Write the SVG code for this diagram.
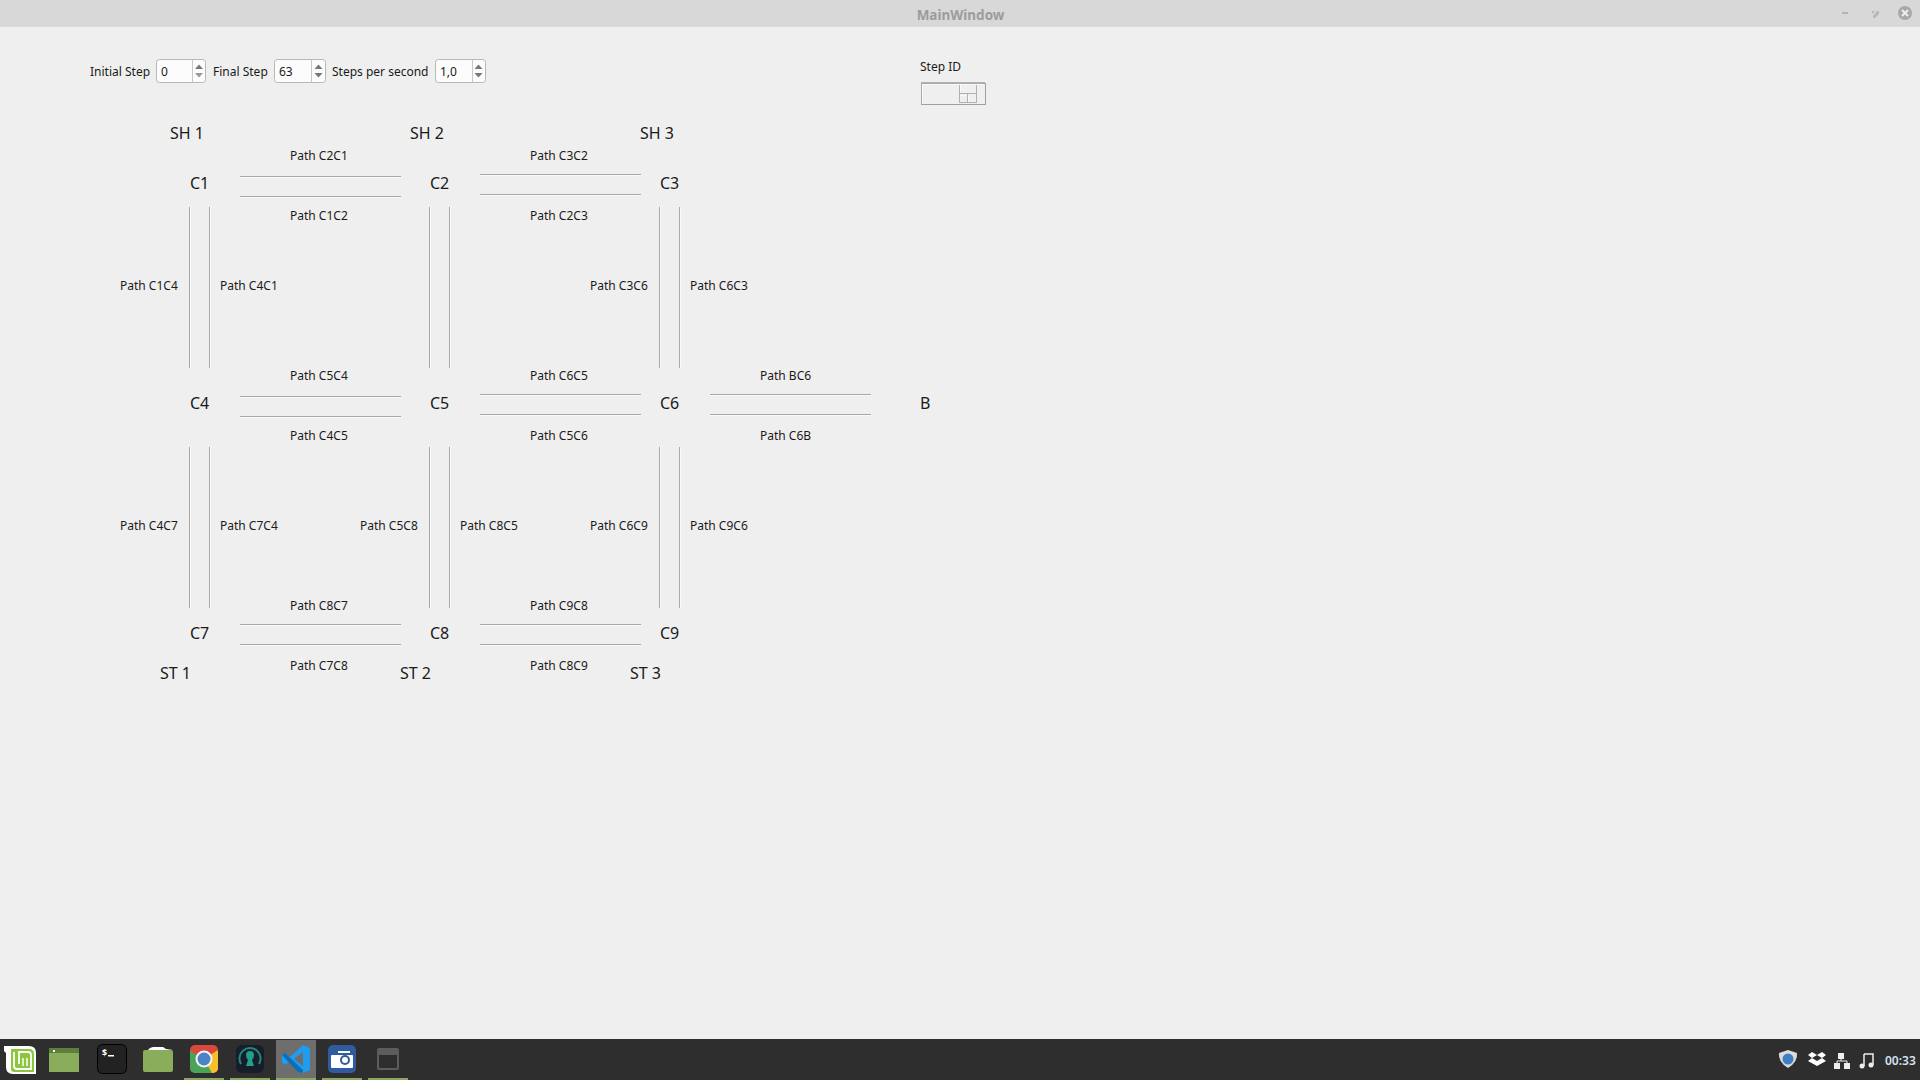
<svg xmlns="http://www.w3.org/2000/svg" width="1920" height="1080" viewBox="0 0 1920 1080">
<defs>
<style>
text{font-family:"Noto Sans","DejaVu Sans",sans-serif;fill:#1a1a1a}
.s{font-size:12px}
.n{font-size:16px}
.c{shape-rendering:crispEdges}
.c .d line{stroke:#a8a8a8;stroke-width:1}
.c .l line{stroke:#fafafa;stroke-width:1}
.spin{fill:#fcfcfc;stroke:#b8b8b8;stroke-width:1}
.dv{stroke:#c8c8c8;stroke-width:1}
.up{fill:#777}
.dn{fill:#999}
.ul{fill:#8aa860}
</style>
<clipPath id="chromeclip"><rect x="190" y="1045" width="28" height="28" rx="5"/></clipPath>
</defs>
<rect width="1920" height="1080" fill="#efefef"/>
<g id="titlebar">
<rect width="1920" height="27" fill="#d8d8d8"/>
<text x="960.500" y="20" text-anchor="middle" font-size="13.500" font-weight="700" style="fill:#9c9c9c">MainWindow</text>
<rect x="1842" y="12" width="6" height="2" fill="#b4b4b4"/>
<path d="M1873 16l4-5h2v3l-4 4h-2zM1872 11h3l-3 3z" fill="#b8b8b8"/>
<circle cx="1905" cy="13" r="7" fill="#a8a8a8"/>
<path d="M1902 10l6 6M1908 10l-6 6" stroke="#efefef" stroke-width="2"/>
</g>
<g id="controls">
<text class="s" x="90" y="76">Initial Step</text>
<rect class="spin" x="156.500" y="59.500" width="49" height="23" rx="3"/><line class="dv" x1="192.500" y1="60" x2="192.500" y2="82"/>
<path class="up" d="M195 69l4-4.500 4 4.500z"/><path class="dn" d="M195 73l4 4.500 4-4.500z"/>
<text class="s" x="161" y="76">0</text>
<text class="s" x="213" y="76">Final Step</text>
<rect class="spin" x="274.500" y="59.500" width="51" height="23" rx="3"/><line class="dv" x1="311.500" y1="60" x2="311.500" y2="82"/>
<path class="up" d="M314.500 69l4-4.500 4 4.500z"/><path class="up" d="M314.500 73l4 4.500 4-4.500z"/>
<text class="s" x="279" y="76">63</text>
<text class="s" x="332" y="76">Steps per second</text>
<rect class="spin" x="435.500" y="59.500" width="50" height="23" rx="3"/><line class="dv" x1="472.500" y1="60" x2="472.500" y2="82"/>
<path class="up" d="M474.500 69l4-4.500 4 4.500z"/><path class="up" d="M474.500 73l4 4.500 4-4.500z"/>
<text class="s" x="440" y="76">1,0</text>
</g>
<g id="stepid">
<text class="s" x="920" y="71">Step ID</text>
<path d="M921 82.500H985" fill="none" stroke="#b4b4b4"/>
<path d="M921.500 104V83M921 83.500H985" fill="none" stroke="#a8a8a8"/>
<path d="M922 84.500H984M922.500 84V103" fill="none" stroke="#fafafa"/>
<path d="M921 104.500H986M985.500 83V105" fill="none" stroke="#a0a0a0"/>
<path d="M959.500 103V85M976.500 103V85M959 93.500H968M968 93.500H977M967.500 94V103M959 102.500H967M968 102.500H977" fill="none" stroke="#b0b0b0"/>
<path d="M960 84.500H976M960.500 85V92M968.500 95V102M960 95.500H967" fill="none" stroke="#fafafa"/>
</g>
<g id="connectors" class="c">
<g class="d">
<line x1="240" y1="176.500" x2="401" y2="176.500"/><line x1="240" y1="196.500" x2="401" y2="196.500"/>
<line x1="480" y1="174.500" x2="641" y2="174.500"/><line x1="480" y1="194.500" x2="641" y2="194.500"/>
<line x1="240" y1="396.500" x2="401" y2="396.500"/><line x1="240" y1="416.500" x2="401" y2="416.500"/>
<line x1="480" y1="394.500" x2="641" y2="394.500"/><line x1="480" y1="414.500" x2="641" y2="414.500"/>
<line x1="710" y1="394.500" x2="871" y2="394.500"/><line x1="710" y1="414.500" x2="871" y2="414.500"/>
<line x1="240" y1="624.500" x2="401" y2="624.500"/><line x1="240" y1="644.500" x2="401" y2="644.500"/>
<line x1="480" y1="624.500" x2="641" y2="624.500"/><line x1="480" y1="644.500" x2="641" y2="644.500"/>
<line x1="189.500" y1="207" x2="189.500" y2="368"/><line x1="209.500" y1="207" x2="209.500" y2="368"/>
<line x1="429.500" y1="207" x2="429.500" y2="368"/><line x1="449.500" y1="207" x2="449.500" y2="368"/>
<line x1="659.500" y1="207" x2="659.500" y2="368"/><line x1="679.500" y1="207" x2="679.500" y2="368"/>
<line x1="189.500" y1="447" x2="189.500" y2="608"/><line x1="209.500" y1="447" x2="209.500" y2="608"/>
<line x1="429.500" y1="447" x2="429.500" y2="608"/><line x1="449.500" y1="447" x2="449.500" y2="608"/>
<line x1="659.500" y1="447" x2="659.500" y2="608"/><line x1="679.500" y1="447" x2="679.500" y2="608"/>
</g>
<g class="l">
<line x1="240" y1="177.500" x2="401" y2="177.500"/><line x1="240" y1="197.500" x2="401" y2="197.500"/>
<line x1="480" y1="175.500" x2="641" y2="175.500"/><line x1="480" y1="195.500" x2="641" y2="195.500"/>
<line x1="240" y1="397.500" x2="401" y2="397.500"/><line x1="240" y1="417.500" x2="401" y2="417.500"/>
<line x1="480" y1="395.500" x2="641" y2="395.500"/><line x1="480" y1="415.500" x2="641" y2="415.500"/>
<line x1="710" y1="395.500" x2="871" y2="395.500"/><line x1="710" y1="415.500" x2="871" y2="415.500"/>
<line x1="240" y1="625.500" x2="401" y2="625.500"/><line x1="240" y1="645.500" x2="401" y2="645.500"/>
<line x1="480" y1="625.500" x2="641" y2="625.500"/><line x1="480" y1="645.500" x2="641" y2="645.500"/>
<line x1="190.500" y1="207" x2="190.500" y2="368"/><line x1="210.500" y1="207" x2="210.500" y2="368"/>
<line x1="430.500" y1="207" x2="430.500" y2="368"/><line x1="450.500" y1="207" x2="450.500" y2="368"/>
<line x1="660.500" y1="207" x2="660.500" y2="368"/><line x1="680.500" y1="207" x2="680.500" y2="368"/>
<line x1="190.500" y1="447" x2="190.500" y2="608"/><line x1="210.500" y1="447" x2="210.500" y2="608"/>
<line x1="430.500" y1="447" x2="430.500" y2="608"/><line x1="450.500" y1="447" x2="450.500" y2="608"/>
<line x1="660.500" y1="447" x2="660.500" y2="608"/><line x1="680.500" y1="447" x2="680.500" y2="608"/>
</g>
</g>
<g id="connector-labels">
<text class="s" x="290" y="160">Path C2C1</text><text class="s" x="290" y="220">Path C1C2</text>
<text class="s" x="530" y="160">Path C3C2</text><text class="s" x="530" y="220">Path C2C3</text>
<text class="s" x="120" y="290">Path C1C4</text><text class="s" x="220" y="290">Path C4C1</text>
<text class="s" x="590" y="290">Path C3C6</text><text class="s" x="690" y="290">Path C6C3</text>
<text class="s" x="290" y="380">Path C5C4</text><text class="s" x="290" y="440">Path C4C5</text>
<text class="s" x="530" y="380">Path C6C5</text><text class="s" x="530" y="440">Path C5C6</text>
<text class="s" x="760" y="380">Path BC6</text><text class="s" x="760" y="440">Path C6B</text>
<text class="s" x="120" y="530">Path C4C7</text><text class="s" x="220" y="530">Path C7C4</text>
<text class="s" x="360" y="530">Path C5C8</text><text class="s" x="460" y="530">Path C8C5</text>
<text class="s" x="590" y="530">Path C6C9</text><text class="s" x="690" y="530">Path C9C6</text>
<text class="s" x="290" y="610">Path C8C7</text><text class="s" x="290" y="670">Path C7C8</text>
<text class="s" x="530" y="610">Path C9C8</text><text class="s" x="530" y="670">Path C8C9</text>
</g>
<g id="node-SH1"><text class="n" x="170" y="139">SH 1</text></g>
<g id="node-SH2"><text class="n" x="410" y="139">SH 2</text></g>
<g id="node-SH3"><text class="n" x="640" y="139">SH 3</text></g>
<g id="node-C1"><text class="n" x="190" y="189">C1</text></g>
<g id="node-C2"><text class="n" x="430" y="189">C2</text></g>
<g id="node-C3"><text class="n" x="660" y="189">C3</text></g>
<g id="node-C4"><text class="n" x="190" y="409">C4</text></g>
<g id="node-C5"><text class="n" x="430" y="409">C5</text></g>
<g id="node-C6"><text class="n" x="660" y="409">C6</text></g>
<g id="node-B"><text class="n" x="920" y="409">B</text></g>
<g id="node-C7"><text class="n" x="190" y="639">C7</text></g>
<g id="node-C8"><text class="n" x="430" y="639">C8</text></g>
<g id="node-C9"><text class="n" x="660" y="639">C9</text></g>
<g id="node-ST1"><text class="n" x="160" y="679">ST 1</text></g>
<g id="node-ST2"><text class="n" x="400" y="679">ST 2</text></g>
<g id="node-ST3"><text class="n" x="630" y="679">ST 3</text></g>
<g id="taskbar">
<rect y="1039" width="1920" height="41" fill="#2e2e2e"/>
<rect x="276" y="1040" width="40" height="40" fill="#6e6e6e"/>
<rect class="ul" x="184" y="1078" width="40" height="2"/><rect class="ul" x="230" y="1078" width="40" height="2"/><rect class="ul" x="276" y="1078" width="40" height="2"/><rect class="ul" x="322" y="1078" width="40" height="2"/><rect class="ul" x="368" y="1078" width="40" height="2"/>
<path d="M4 1046h25q7 0 7 7v21h-23q-7 0-7-7v-14l-2-2z" fill="#fff"/>
<path d="M11 1049h18q5 0 5 5v18h-20q-3 0-3-3z" fill="#8cc63f"/>
<path d="M14 1052v14q0 3 3 3h14v-14q0-3-3-3h-9v12" fill="none" stroke="#fff" stroke-width="1.800"/>
<path d="M23 1066v-8M27 1066v-8" fill="none" stroke="#fff" stroke-width="1.500"/>
<rect x="49" y="1048" width="30" height="24" fill="#8aad5c"/><rect x="49" y="1048" width="30" height="5" fill="#5f7f3d"/><rect x="53" y="1050" width="2" height="2" fill="#fff"/>
<rect x="97.500" y="1044.500" width="29" height="29" rx="5" fill="#222" stroke="#000"/>
<text x="102" y="1056" font-size="9" font-weight="700" style="fill:#fff">$</text><rect x="108" y="1055" width="6" height="1.500" fill="#fff"/>
<path d="M148 1050l2-2 3-1h10l3 2 7 1z" fill="#fff"/><rect x="143" y="1050" width="30" height="22" rx="2" fill="#8aad5c"/>
<g clip-path="url(#chromeclip)">
<rect x="190" y="1045" width="28" height="28" fill="#d9483a"/>
<path d="M204 1059l14-9v23h-14z" fill="#f5c02d"/>
<path d="M190 1051l14 8 8 14h-22z" fill="#4aa356"/>
</g>
<circle cx="204" cy="1059" r="8.500" fill="#f4f4f4"/><circle cx="204" cy="1059" r="6.500" fill="#4b84c4"/>
<rect x="236" y="1045" width="28" height="28" rx="6" fill="#191c2a"/><path d="M241 1064a10.500 10.500 0 1 1 18 0" fill="none" stroke="#1f8a7a" stroke-width="2"/><path d="M246 1055a4 4 0 0 1 8 0q0 3-2 5l2 6h-8l2-6q-2-2-2-5z" fill="#1f9f8c"/>
<path d="M303 1045l7 3v22l-7 3-13-12-5 4-3-2v-8l3-2 5 4z" fill="#1f9cf0"/><path d="M303 1052v14l-9-7z" fill="#6e6e6e"/><path d="M282 1055l3-2 18 17v3l-5-1z" fill="#0a6fb8"/>
<rect x="328" y="1045" width="28" height="28" rx="5" fill="#2f5c9e"/><rect x="331" y="1055" width="22" height="13" rx="1" fill="#fff"/><rect x="338" y="1051" width="12" height="2" fill="#fff"/><circle cx="345" cy="1060" r="5" fill="#2f5c9e"/><circle cx="345" cy="1060" r="3" fill="#fff"/>
<rect x="378" y="1049" width="20" height="20" rx="1" fill="none" stroke="#5c5c5c" stroke-width="2"/><rect x="378" y="1049" width="20" height="6" fill="#5c5c5c"/>
<path d="M1788 1050l9 3q1 9-9 15-10-6-9-15z" fill="#dcdcdc"/><circle cx="1788" cy="1059" r="5.500" fill="#3f7fc1"/>
<path d="M1812 1052l5 3-5 3-4-3zM1822 1052l4 3-4 3-5-3zM1812 1058l5 3 5-3 4 3-9 5-9-5z" fill="#fff"/>
<rect x="1838" y="1053" width="6" height="6" fill="#eee"/><rect x="1834" y="1063" width="6" height="6" fill="#eee"/><rect x="1844" y="1063" width="6" height="6" fill="#eee"/><path d="M1841 1059v2M1837 1063v-2h10v2" fill="none" stroke="#eee"/>
<path d="M1864 1054h9v11M1864 1054v12" fill="none" stroke="#eee" stroke-width="1.500"/><circle cx="1862" cy="1066" r="2.500" fill="#eee"/><circle cx="1871" cy="1065" r="2.500" fill="#eee"/>
<text x="1885" y="1065" font-size="12" font-weight="600" style="fill:#d4e2f0">00:33</text>
</g>
</svg>
